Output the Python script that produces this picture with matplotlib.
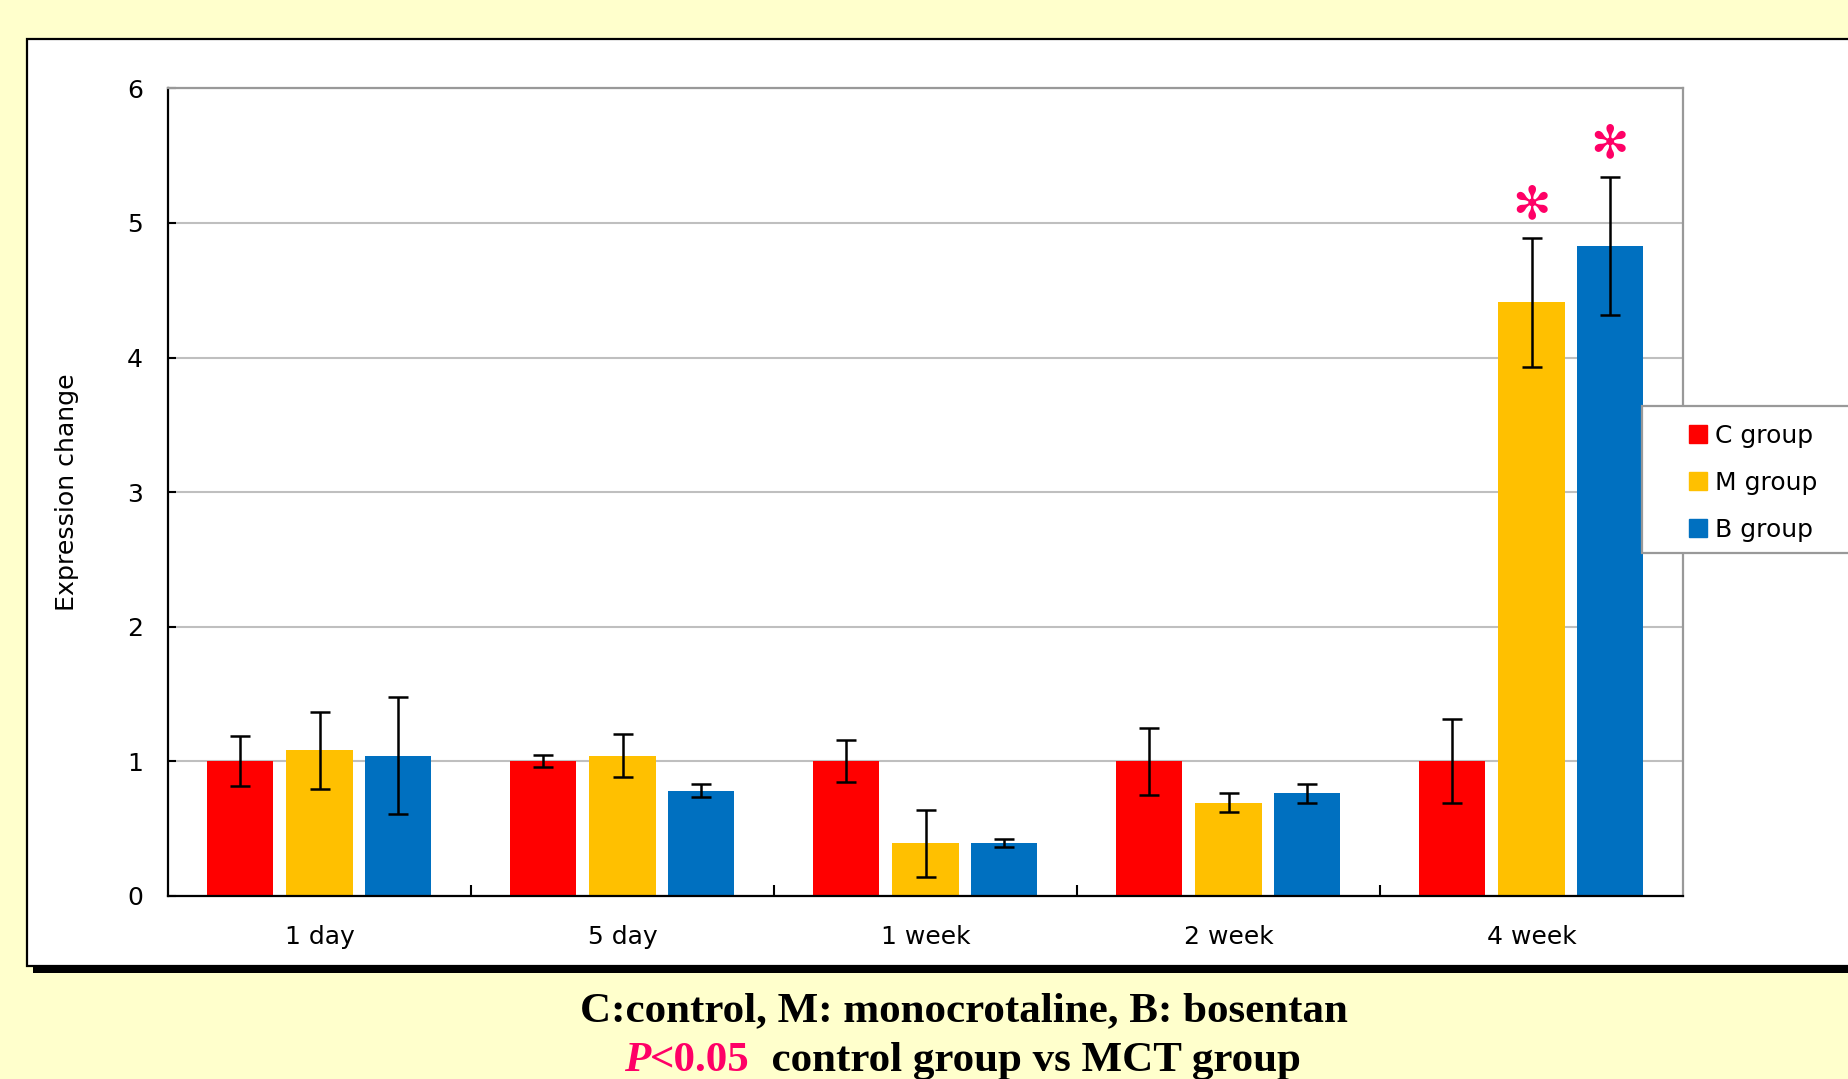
import matplotlib
matplotlib.use('Agg')
import matplotlib.pyplot as plt
from matplotlib.patches import Rectangle, Patch
import numpy as np

categories = ['1 day', '5 day', '1 week', '2 week', '4 week']
groups = ['C group', 'M group', 'B group']
colors = ['#FF0000', '#FFC000', '#0070C0']

c_mean = [1.00, 1.00, 1.00, 1.00, 1.00]
c_err = [0.185, 0.045, 0.157, 0.25, 0.31]
m_mean = [1.08, 1.04, 0.39, 0.69, 4.41]
m_err = [0.285, 0.16, 0.25, 0.07, 0.48]
b_mean = [1.04, 0.78, 0.39, 0.76, 4.83]
b_err = [0.435, 0.05, 0.03, 0.07, 0.515]

# significant bars (group, category)
stars = [('M group', '4 week'), ('B group', '4 week')]

W, H = 1848, 1079
fig = plt.figure(figsize=(W / 100, H / 100), dpi=100, facecolor='#FFFFCC')


def fx(px):
    return px / W


def fy(py):
    return 1 - py / H


# chart frame with black drop shadow
fig.patches.append(Rectangle((fx(33), fy(973)), fx(1900) - fx(33), fy(45) - fy(973),
                             transform=fig.transFigure, facecolor='black',
                             edgecolor='none', zorder=-2))
fig.patches.append(Rectangle((fx(27), fy(966)), fx(1900) - fx(27), fy(39) - fy(966),
                             transform=fig.transFigure, facecolor='white',
                             edgecolor='black', lw=1.6, zorder=-1))

ax = fig.add_axes([fx(168), fy(895.7), fx(1683) - fx(168), fy(88.4) - fy(895.7)])
ax.set_facecolor('white')

x = np.arange(len(categories))
offsets = [-0.262, 0.0, 0.259]
width = 0.218
means = [c_mean, m_mean, b_mean]
errs = [c_err, m_err, b_err]
ekw = dict(ecolor='black', elinewidth=1.8, capsize=7, capthick=1.8)
for i, g in enumerate(groups):
    ax.bar(x + offsets[i], means[i], width, yerr=errs[i], color=colors[i],
           error_kw=ekw, label=g, zorder=2)

for g, c in stars:
    gi = groups.index(g)
    ci = categories.index(c)
    top = means[gi][ci] + errs[gi][ci]
    ax.text(ci + offsets[gi], top + 0.24, '\u273B', ha='center', va='center',
            color='#FF0066', fontsize=33)

ax.set_xlim(-0.5, len(categories) - 0.5)
ax.set_ylim(0, 6)
ax.set_yticks(range(7))
ax.set_xticks(np.arange(0.5, len(categories) - 1, 1.0))
ax.set_xticks(x, minor=True)
ax.set_xticklabels(categories, minor=True)
ax.tick_params(axis='x', which='major', direction='in', length=8, width=1.5,
               labelbottom=False, color='black')
ax.tick_params(axis='x', which='minor', length=0, pad=21, labelsize=18)
ax.tick_params(axis='y', direction='in', length=6, width=1.5, pad=18, labelsize=18)

ax.yaxis.grid(True, color='#BFBFBF', lw=1.5)
ax.set_axisbelow(True)
for s in ['left', 'bottom']:
    ax.spines[s].set_color('black')
    ax.spines[s].set_linewidth(1.6)
for s in ['top', 'right']:
    ax.spines[s].set_color('#999999')
    ax.spines[s].set_linewidth(1.6)

ax.set_ylabel('Expression change', fontsize=18.2)
ax.yaxis.set_label_coords(-0.0587, 0.5)

# legend box sticks out past the right edge
fig.patches.append(Rectangle((fx(1642), fy(553)), fx(1900) - fx(1642), fy(406) - fy(553),
                             transform=fig.transFigure, facecolor='white',
                             edgecolor='#999999', lw=1.6, zorder=4))
handles = [Patch(color=c, label=g) for c, g in zip(colors, groups)]
fig.legend(handles=handles, loc='upper left', bbox_to_anchor=(fx(1676), fy(411)),
           frameon=False, borderpad=0, fontsize=18, handlelength=0.75,
           handleheight=0.75, handletextpad=0.3, labelspacing=0.93)

serif = dict(family='Liberation Serif', fontweight='bold', fontsize=31)
fig.text(fx(964), fy(1021), 'C:control, M: monocrotaline, B: bosentan',
         ha='center', va='baseline', **serif)

fig.canvas.draw()
r = fig.canvas.get_renderer()
parts = [('P', '#FF0066', 'italic'), ('<0.05', '#FF0066', 'normal'),
         ('  control group vs MCT group', 'black', 'normal')]
texts = [fig.text(0, fy(1071), s, color=c, style=st, va='baseline', **serif)
         for s, c, st in parts]
widths = [t.get_window_extent(r).width for t in texts]
xpos = 962 - sum(widths) / 2
for t, w in zip(texts, widths):
    t.set_x(fx(xpos))
    xpos += w

fig.savefig('out.png', dpi=100, facecolor=fig.get_facecolor())
